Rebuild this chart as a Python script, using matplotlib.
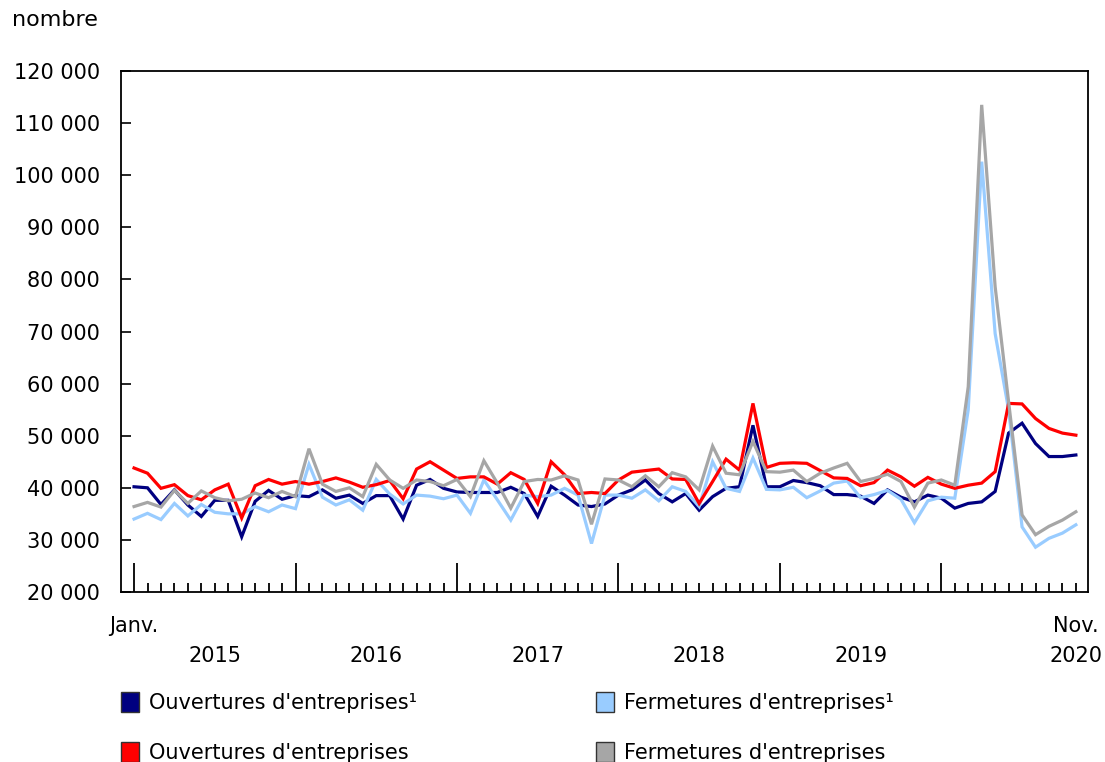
import matplotlib

matplotlib.use("Agg")
import matplotlib.pyplot as plt
from matplotlib.patches import Patch
from matplotlib.ticker import FuncFormatter

# Monthly series, January 2015 to November 2020
months = list(range(71))

ouvertures_adj = [
    40200, 40000, 36800, 39600, 36700, 34500, 37600, 37600, 30600, 37400, 39500, 37800,
    38500, 38300, 39600, 38000, 38600, 37000, 38500, 38500, 34000, 40500, 41600, 39900,
    39200, 39100, 39100, 39100, 40100, 38900, 34500, 40300, 38600, 36700, 36400, 36900,
    38600, 39600, 41500, 38900, 37300, 38900, 35700, 38300, 39900, 40200, 52000, 40200,
    40200, 41400, 41000, 40400, 38700, 38700, 38400, 37000, 39600, 38200, 37300, 38600,
    38000, 36100, 37000, 37300, 39300, 50500, 52400, 48500, 46000, 46000, 46300,
]
fermetures_adj = [
    34000, 35100, 33900, 37000, 34600, 36800, 35300, 35000, 35000, 36400, 35400, 36700,
    36000, 44500, 38200, 36700, 37700, 35700, 41600, 38800, 36900, 38600, 38400, 37900,
    38600, 35100, 41500, 37700, 33800, 38600, 38300, 38600, 39900, 38600, 29300, 38600,
    38600, 38000, 39600, 37500, 40200, 39300, 36400, 45000, 39900, 39300, 45700, 39700,
    39600, 40100, 38100, 39400, 40900, 41300, 38100, 38700, 39500, 37800, 33300, 37500,
    38200, 38000, 55000, 102600, 69600, 55000, 32500, 28600, 30300, 31300, 32900,
]
ouvertures = [
    43800, 42800, 39900, 40600, 38500, 37700, 39600, 40700, 34200, 40400, 41600, 40700,
    41200, 40700, 41200, 41900, 41100, 40100, 40600, 41400, 37900, 43600, 45000, 43400,
    41800, 42100, 42100, 40700, 42900, 41600, 37000, 45000, 42500, 38900, 39100, 38900,
    41500, 43000, 43300, 43600, 41700, 41600, 37000, 41200, 45500, 43400, 56200, 43900,
    44700, 44800, 44700, 43300, 41900, 41800, 40400, 41000, 43400, 42100, 40300, 42000,
    40700, 39900, 40500, 40900, 43100, 56200, 56100, 53300, 51400, 50500, 50100,
]
fermetures = [
    36400, 37200, 36300, 39500, 37000, 39400, 38100, 37500, 37800, 39000, 38100, 39300,
    38300, 47500, 40700, 39300, 40000, 38300, 44500, 41500, 39900, 41500, 41200, 40400,
    41600, 38300, 45200, 40900, 36100, 41200, 41600, 41500, 42300, 41500, 33000, 41700,
    41500, 40200, 42300, 40200, 42900, 42100, 39600, 48000, 42800, 42500, 48900, 43100,
    43000, 43400, 41200, 42800, 43800, 44700, 41200, 41800, 42600, 41200, 36300, 40900,
    41500, 40500, 59400, 113500, 78600, 56500, 34800, 31000, 32600, 33800, 35400,
]

years = ["2015", "2016", "2017", "2018", "2019", "2020"]
labels = [
    "Ouvertures d'entreprises\u00b9",
    "Fermetures d'entreprises\u00b9",
    "Ouvertures d'entreprises",
    "Fermetures d'entreprises",
]
colors = ["#000080", "#99CCFF", "#FF0000", "#A6A6A6"]

plt.rcParams["font.family"] = ["DejaVu Sans"]
fs = 15

fig = plt.figure(figsize=(11.05, 7.62), dpi=100)
ax = fig.add_axes([0.1095, 0.2231, 0.8751, 0.6837])

for series, c in zip([ouvertures_adj, fermetures_adj, ouvertures, fermetures], colors):
    ax.plot(months, series, color=c, linewidth=2.3, solid_joinstyle="miter")

ax.set_xlim(-0.97, 70.9)
ax.set_ylim(20000, 120000)
ax.set_yticks(range(20000, 120001, 10000))
ax.yaxis.set_major_formatter(FuncFormatter(lambda v, p: f"{int(v):,}".replace(",", " ")))
ax.tick_params(axis="y", direction="in", length=7, width=1.2, labelsize=fs, pad=15)

# month ticks, long ones at each January
ax.set_xticks([m for m in months if m % 12 == 0])
ax.set_xticks(months, minor=True)
ax.tick_params(axis="x", which="major", direction="in", length=21, width=1.3, labelbottom=False)
ax.tick_params(axis="x", which="minor", direction="in", length=6.5, width=1.3)

for s in ax.spines.values():
    s.set_linewidth(1.3)

trans = ax.get_xaxis_transform()
ax.text(0, -0.046, "Janv.", transform=trans, ha="center", va="top", fontsize=fs)
ax.text(70, -0.046, "Nov.", transform=trans, ha="center", va="top", fontsize=fs)
for k, y in enumerate(years):
    xpos = 12 * k + 6 if k < 5 else 70
    ax.text(xpos, -0.104, y, transform=trans, ha="center", va="top", fontsize=fs)

fig.text(0.011, 0.987, "nombre", ha="left", va="top", fontsize=16)

handles = [Patch(facecolor=c, edgecolor="#333333", linewidth=1.0) for c in colors]
order = [0, 2, 1, 3]
fig.legend(
    [handles[i] for i in order], [labels[i] for i in order],
    ncol=2, loc="upper left", bbox_to_anchor=(0.1095, 0.0915),
    frameon=False, fontsize=fs, handlelength=0.85, handleheight=1.05,
    handletextpad=0.5, columnspacing=8.6, labelspacing=1.4,
    borderpad=0, borderaxespad=0,
)

fig.savefig("out.png", dpi=100)
